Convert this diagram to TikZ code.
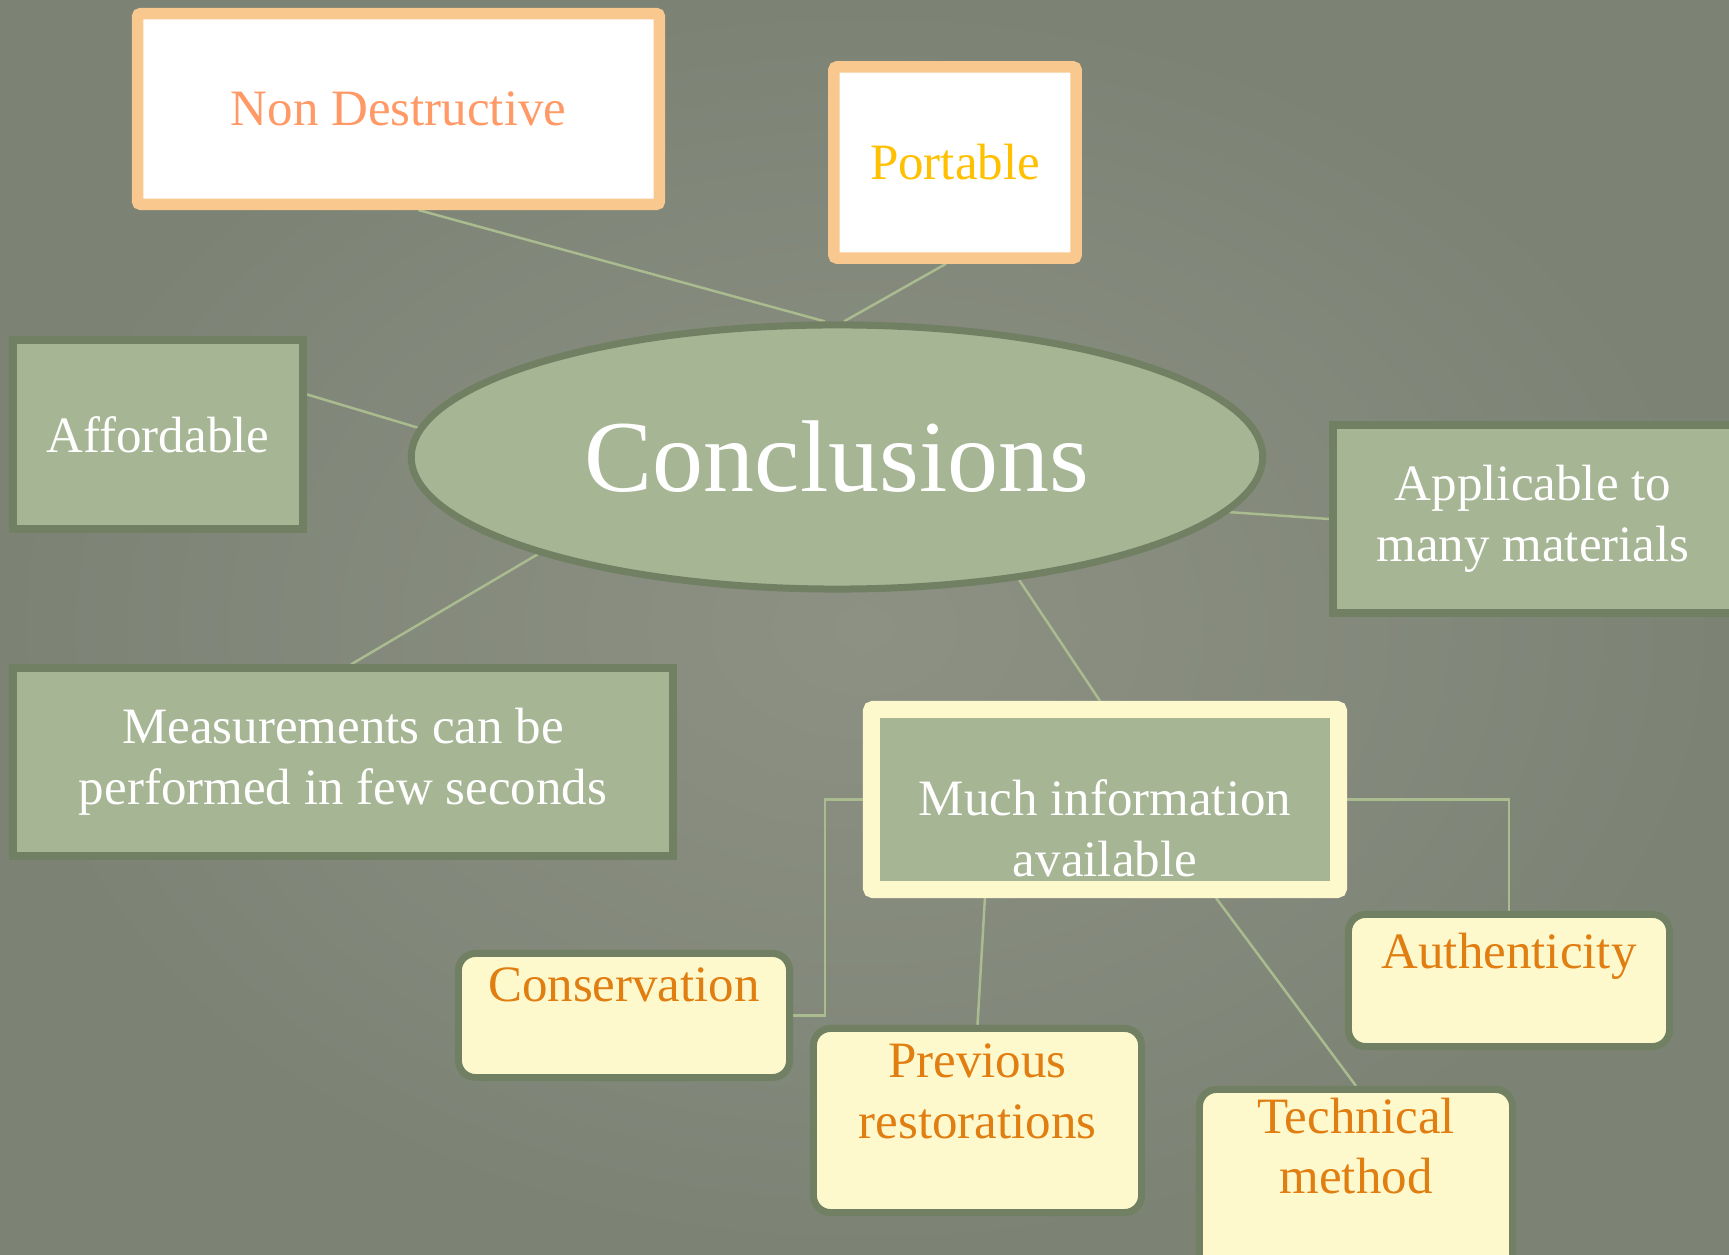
\documentclass[tikz,border=0pt]{standalone}
\usepackage{fontspec}
\setmainfont{Liberation Serif}
\usepackage{tikz}
\usetikzlibrary{shapes.geometric,positioning,backgrounds}

\definecolor{paperin}{HTML}{8D9184}
\definecolor{paperout}{HTML}{7C8375}
\definecolor{sage}{HTML}{A6B593}
\definecolor{sageline}{HTML}{718062}
\definecolor{linkgreen}{HTML}{A9BB8F}
\definecolor{cream}{HTML}{FEF9CC}
\definecolor{ochre}{HTML}{E07E12}
\definecolor{tanline}{HTML}{F8C88F}
\definecolor{salmon}{HTML}{FF9966}
\definecolor{gold}{HTML}{FFC000}

\newcommand{\boxfont}{\fontsize{14.5}{17.3}\selectfont}

\begin{document}
\begin{tikzpicture}[x=0.01cm,y=-0.01cm,
                    sagebox/.style={draw=sageline, fill=sage, line width=0.08cm,
                                    text=white, align=center, inner sep=0pt, font=\boxfont},
                    tanbox/.style={draw=tanline, fill=white, line width=0.115cm,
                                   rounded corners=0.03cm, inner sep=0pt, font=\boxfont},
                    notebox/.style={draw=sageline, fill=cream, line width=0.07cm,
                                    rounded corners=0.17cm},
                    notetext/.style={text=ochre, align=center, inner sep=0pt, font=\boxfont},
                    link/.style={draw=linkgreen, line width=0.025cm}]

  \useasboundingbox (0,0) rectangle (1729,1255);
  \begin{scope}[on background layer]
    \shade[inner color=paperin, outer color=paperout] (0,0) rectangle (1729,1255);
  \end{scope}
  \clip (0,0) rectangle (1729,1255);

  % centre
  \node[ellipse, draw=sageline, fill=sage, line width=0.07cm,
        minimum width=8.51cm, minimum height=2.64cm, inner sep=0pt,
        text=white, font=\fontsize{29}{34}\selectfont] (conc) at (837,457) {Conclusions};

  % first ring
  \node[tanbox, text=salmon, minimum width=5.215cm, minimum height=1.905cm]
        (nondes) at (398.5,109) {Non Destructive};
  \node[tanbox, text=gold, minimum width=2.42cm, minimum height=1.91cm]
        (portable) at (955,162.5) {Portable};
  \node[sagebox, minimum width=2.90cm, minimum height=1.89cm]
        (afford) at (158,434.5) {Affordable};
  \node[sagebox, minimum width=4.00cm, minimum height=1.87cm]
        (applic) at (1533,519) {Applicable to\\ many materials};
  \node[sagebox, minimum width=6.60cm, minimum height=1.87cm]
        (measure) at (343,762) {Measurements can be\\ performed in few seconds};

  \node[draw=cream, fill=sage, line width=0.17cm, rounded corners=0.02cm,
        minimum width=4.67cm, minimum height=1.80cm, inner sep=0pt] (info) at (1105,799.5) {};
  \node[text=white, align=center, inner sep=0pt, font=\boxfont, yshift=-0.29cm]
        (infotxt) at (info.center) {Much information\\ available};

  % second ring
  \node[notebox, minimum width=3.31cm, minimum height=1.24cm] (cons) at (624,1015.5) {};
  \node[notetext, below=0.17cm of cons.north] (constxt) {Conservation};
  \node[notebox, minimum width=3.28cm, minimum height=1.84cm] (prev) at (977.5,1120.5) {};
  \node[notetext, below=0.18cm of prev.north] (prevtxt) {Previous\\ restorations};
  \node[notebox, minimum width=3.21cm, minimum height=1.32cm] (auth) at (1509,980.5) {};
  \node[notetext, below=0.21cm of auth.north] (authtxt) {Authenticity};
  \node[notebox, minimum width=3.13cm, minimum height=1.84cm] (tech) at (1356,1181.5) {};
  \node[notetext, below=0.11cm of tech.north] (techtxt) {Technical\\ method};

  \begin{scope}[on background layer]
    \draw[link] ([xshift=0.2cm]nondes.south) -- ([xshift=-0.12cm]conc.north);
    \draw[link] ([xshift=-0.09cm]portable.south) -- ([xshift=0.07cm]conc.north);
    \draw[link] ([yshift=0.4cm]afford.east) -- (conc.176);
    \draw[link] ([xshift=0.08cm]measure.north) -- (conc.198);
    \draw[link] (applic.west) -- (conc.352);
    \draw[link] (conc.326) -- ([xshift=-0.05cm]info.north);
    \draw[link] (info.west) -- ++(-38,0) |- (cons.east);
    \draw[link] ([xshift=-1.2cm]info.south) -- (prev.north);
    \draw[link] ([xshift=1.11cm]info.south) -- (tech.north);
    \draw[link] (info.east) -| (auth.north);
  \end{scope}
\end{tikzpicture}
\end{document}
